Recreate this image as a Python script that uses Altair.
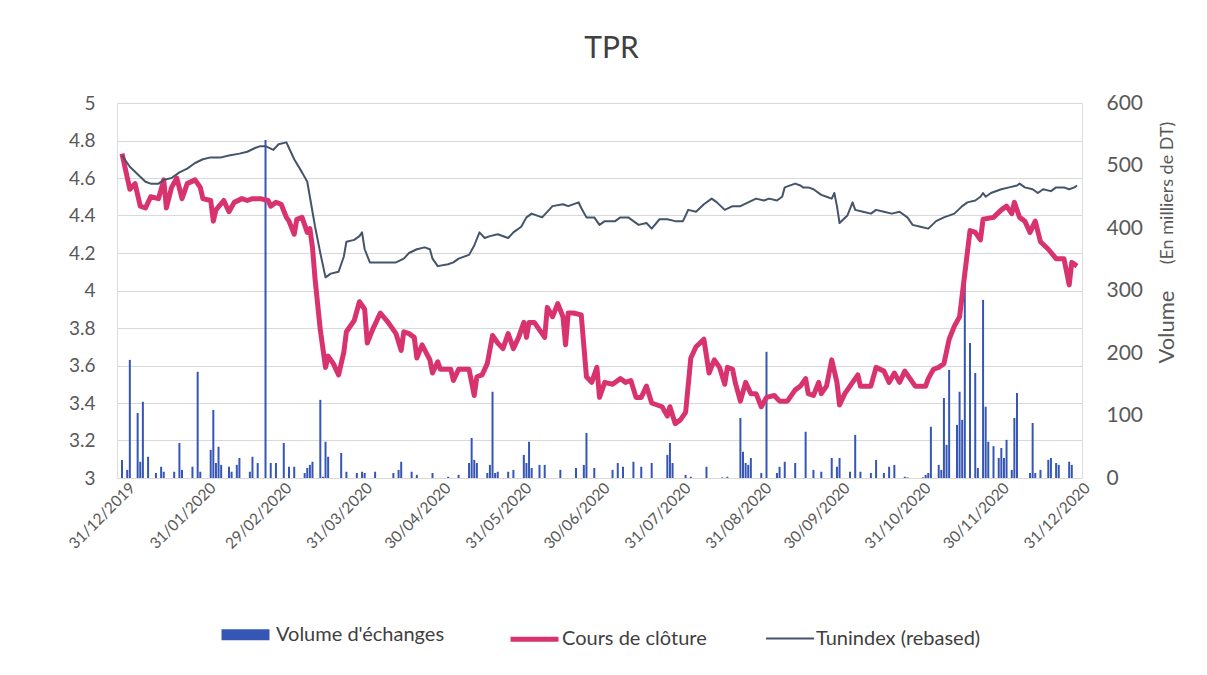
import altair as alt
import pandas as pd

# ---- data (days after 31/12/2019) ----
PRICE_DAYS = [0, 3, 5, 7, 9, 11, 14, 16, 17, 19, 21, 23, 25, 28, 30, 31, 34, 35, 36, 39,
              41, 43, 46, 48, 50, 53, 56, 57, 59, 61, 63, 64, 66, 67, 69, 71, 72, 73, 74, 76,
              78, 79, 81, 83, 85, 86, 89, 91, 93, 94, 96, 99, 102, 105, 107, 108, 110, 112, 113, 115,
              118, 119, 121, 122, 126, 127, 129, 133, 135, 136, 138, 140, 142, 144, 146, 148, 150, 152, 154, 155,
              156, 158, 160, 162, 163, 165, 167, 169, 170, 171, 173, 176, 178, 180, 182, 183, 185, 188, 191, 193,
              195, 197, 199, 201, 203, 207, 209, 210, 212, 214, 216, 218, 220, 223, 225, 227, 229, 231, 232, 234,
              235, 237, 239, 241, 243, 245, 247, 250, 252, 255, 258, 260, 262, 263, 265, 267, 268, 270, 272, 274,
              275, 277, 279, 282, 283, 287, 289, 292, 294, 296, 298, 300, 302, 304, 308, 309, 311, 313, 315, 317,
              319, 321, 323, 325, 327, 329, 330, 334, 337, 339, 341, 342, 344, 346, 348, 350, 352, 355, 358, 361,
              363, 364, 366]
PRICE = [4.73, 4.54, 4.57, 4.45, 4.44, 4.50, 4.49, 4.59, 4.44, 4.55, 4.60, 4.49, 4.57, 4.59, 4.55, 4.49, 4.48, 4.37, 4.43, 4.48,
         4.42, 4.47, 4.49, 4.48, 4.49, 4.49, 4.48, 4.45, 4.47, 4.46, 4.39, 4.37, 4.30, 4.38, 4.39, 4.31, 4.33, 4.23, 4.06, 3.79,
         3.59, 3.65, 3.61, 3.55, 3.67, 3.78, 3.84, 3.94, 3.90, 3.72, 3.79, 3.88, 3.83, 3.77, 3.68, 3.78, 3.77, 3.75, 3.64, 3.71,
         3.63, 3.56, 3.62, 3.58, 3.58, 3.52, 3.58, 3.58, 3.44, 3.54, 3.55, 3.61, 3.76, 3.72, 3.69, 3.77, 3.69, 3.75, 3.83, 3.75,
         3.83, 3.83, 3.79, 3.75, 3.91, 3.86, 3.93, 3.86, 3.71, 3.88, 3.88, 3.87, 3.54, 3.51, 3.59, 3.43, 3.51, 3.50, 3.53, 3.51,
         3.52, 3.43, 3.43, 3.49, 3.40, 3.38, 3.33, 3.38, 3.29, 3.31, 3.35, 3.64, 3.70, 3.74, 3.56, 3.63, 3.59, 3.50, 3.59, 3.58,
         3.51, 3.41, 3.51, 3.45, 3.45, 3.38, 3.43, 3.44, 3.41, 3.41, 3.47, 3.49, 3.53, 3.45, 3.44, 3.51, 3.45, 3.49, 3.63, 3.51,
         3.39, 3.45, 3.49, 3.55, 3.49, 3.49, 3.59, 3.57, 3.51, 3.56, 3.51, 3.57, 3.53, 3.49, 3.49, 3.53, 3.58, 3.59, 3.61, 3.74,
         3.81, 3.86, 4.09, 4.32, 4.31, 4.27, 4.38, 4.39, 4.43, 4.45, 4.41, 4.47, 4.39, 4.37, 4.31, 4.37, 4.26, 4.22, 4.17, 4.17,
         4.03, 4.15, 4.13]

TUN_DAYS = [0, 3, 6, 9, 11, 14, 16, 19, 22, 25, 28, 31, 34, 38, 41, 45, 48, 51, 53, 55,
            58, 60, 63, 64, 66, 69, 71, 72, 74, 76, 78, 80, 83, 85, 86, 89, 91, 92, 93, 95,
            98, 102, 105, 108, 110, 113, 116, 118, 119, 121, 125, 127, 129, 133, 135, 137, 139, 141, 144, 148,
            150, 153, 155, 157, 161, 165, 169, 171, 175, 176, 178, 181, 183, 185, 189, 191, 194, 198, 201, 203,
            206, 209, 212, 215, 217, 220, 223, 226, 228, 231, 234, 237, 240, 243, 246, 248, 251, 253, 254, 258,
            260, 261, 263, 265, 268, 270, 272, 273, 274, 275, 278, 280, 281, 284, 287, 289, 292, 295, 298, 301,
            303, 306, 309, 312, 315, 319, 322, 324, 327, 329, 330, 331, 333, 337, 340, 343, 344, 346, 349, 351,
            353, 356, 358, 361, 363, 365, 366]
TUNINDEX = [4.72, 4.66, 4.62, 4.58, 4.57, 4.57, 4.59, 4.60, 4.63, 4.65, 4.68, 4.70, 4.71, 4.71, 4.72, 4.73, 4.74, 4.76, 4.77, 4.77,
            4.75, 4.78, 4.79, 4.76, 4.70, 4.63, 4.58, 4.50, 4.34, 4.20, 4.07, 4.09, 4.10, 4.18, 4.26, 4.27, 4.29, 4.31, 4.22, 4.15,
            4.15, 4.15, 4.15, 4.17, 4.20, 4.22, 4.23, 4.22, 4.17, 4.13, 4.14, 4.15, 4.17, 4.19, 4.24, 4.31, 4.28, 4.29, 4.30, 4.28,
            4.31, 4.34, 4.39, 4.41, 4.39, 4.45, 4.46, 4.45, 4.47, 4.44, 4.39, 4.39, 4.35, 4.37, 4.37, 4.39, 4.39, 4.35, 4.36, 4.33,
            4.38, 4.38, 4.37, 4.37, 4.43, 4.42, 4.46, 4.49, 4.47, 4.43, 4.45, 4.45, 4.47, 4.49, 4.48, 4.49, 4.48, 4.50, 4.55, 4.57,
            4.56, 4.55, 4.55, 4.54, 4.51, 4.50, 4.49, 4.52, 4.45, 4.36, 4.40, 4.47, 4.43, 4.42, 4.41, 4.43, 4.42, 4.41, 4.42, 4.39,
            4.35, 4.34, 4.33, 4.37, 4.39, 4.41, 4.45, 4.47, 4.48, 4.50, 4.52, 4.50, 4.52, 4.54, 4.55, 4.56, 4.57, 4.55, 4.54, 4.52,
            4.54, 4.53, 4.55, 4.55, 4.54, 4.55, 4.56]

VOL_DAYS = [0, 2, 3, 6, 7, 8, 10, 13, 15, 16, 20, 22, 23, 27, 29, 30, 34, 35, 36, 37,
            38, 41, 42, 44, 45, 49, 50, 52, 55, 57, 59, 62, 64, 66, 70, 71, 72, 73, 76, 77,
            78, 79, 84, 86, 90, 92, 93, 97, 104, 106, 107, 111, 113, 119, 125, 129, 133, 134, 135, 136,
            140, 141, 142, 143, 144, 148, 150, 154, 155, 156, 157, 160, 162, 168, 174, 177, 178, 181, 188, 190,
            192, 196, 199, 203, 209, 210, 211, 216, 218, 224, 230, 232, 237, 238, 239, 240, 241, 245, 247, 251,
            252, 254, 258, 262, 265, 268, 272, 274, 275, 279, 281, 283, 287, 289, 292, 294, 296, 300, 301, 307,
            308, 309, 310, 313, 314, 315, 316, 317, 320, 321, 322, 323, 325, 327, 328, 330, 331, 332, 334, 336,
            337, 338, 339, 341, 342, 343, 348, 349, 350, 352, 355, 356, 358, 359, 363, 364]
VOLUME = [29, 13, 189, 104, 26, 122, 34, 8, 18, 10, 10, 56, 13, 18, 170, 10, 45, 109, 24, 50,
          21, 18, 10, 21, 32, 10, 34, 24, 541, 24, 24, 56, 18, 18, 8, 16, 21, 26, 125, 2,
          58, 34, 40, 10, 8, 10, 8, 10, 8, 13, 26, 10, 5, 8, 2, 5, 24, 64, 29, 24,
          8, 21, 138, 8, 10, 10, 13, 37, 24, 58, 16, 21, 21, 13, 16, 21, 72, 16, 13, 24,
          18, 26, 18, 24, 37, 56, 24, 5, 2, 18, 1, 2, 96, 42, 24, 21, 32, 8, 202, 8,
          18, 26, 24, 74, 13, 10, 32, 18, 32, 10, 69, 10, 8, 29, 8, 18, 21, 2, 1, 1,
          5, 8, 82, 21, 13, 128, 53, 173, 85, 138, 93, 322, 216, 168, 16, 285, 114, 58, 51, 32,
          48, 32, 61, 13, 96, 136, 8, 88, 8, 13, 29, 32, 24, 21, 26, 21]

TICK_DATES = ["2019-12-31", "2020-01-31", "2020-02-29", "2020-03-31", "2020-04-30", "2020-05-31",
              "2020-06-30", "2020-07-31", "2020-08-31", "2020-09-30", "2020-10-31", "2020-11-30",
              "2020-12-31"]
LEFT_TICKS = [3, 3.2, 3.4, 3.6, 3.8, 4, 4.2, 4.4, 4.6, 4.8, 5]
RIGHT_TICKS = [0, 100, 200, 300, 400, 500, 600]

SERIES = ["Volume d'échanges", "Cours de clôture", "Tunindex (rebased)"]
COLORS = ["#3556B5", "#D9336F", "#44546A"]
WIDTHS = [11, 5, 2]

BASE = pd.Timestamp("2019-12-31")


def frame(days, values, name):
    return pd.DataFrame({
        "date": BASE + pd.to_timedelta(days, unit="D"),
        "value": values,
        "series": name,
    })


df_vol = frame(VOL_DAYS, VOLUME, SERIES[0])
df_price = frame(PRICE_DAYS, PRICE, SERIES[1])
df_tun = frame(TUN_DAYS, TUNINDEX, SERIES[2])

FONT = "Lato"
W, H = 965, 375

tick_values = [alt.DateTime(year=int(s[:4]), month=int(s[5:7]), date=int(s[8:10])) for s in TICK_DATES]

x_enc = alt.X(
    "date:T",
    scale=alt.Scale(domain=[alt.DateTime(year=2019, month=12, date=31),
                            alt.DateTime(year=2020, month=12, date=31)], nice=False),
    axis=alt.Axis(values=tick_values, format="%d/%m/%Y", labelAngle=-45, labelAlign="right",
                  labelBaseline="middle", labelOffset=10, labelPadding=7, ticks=False, domain=False,
                  grid=False, labelFontSize=15.5, labelColor="#595959", labelFont=FONT, title=None,
                  labelOverlap=False),
)

legend_kw = dict(title=None, orient="none", legendX=99, legendY=502, direction="horizontal",
                 symbolType="stroke", symbolSize=2300, labelFontSize=20, labelFont=FONT,
                 labelColor="#404040", columnPadding=55, labelOffset=1, symbolOpacity=1,
                 labelLimit=400)

color_enc = alt.Color("series:N", scale=alt.Scale(domain=SERIES, range=COLORS),
                      legend=alt.Legend(**legend_kw))
width_enc = alt.StrokeWidth("series:N", scale=alt.Scale(type="ordinal", domain=SERIES, range=WIDTHS),
                            legend=alt.Legend(**legend_kw))

left_axis = alt.Axis(values=LEFT_TICKS, format="~g", ticks=False, domain=False, grid=True,
                     gridColor="#d9d9d9", labelFontSize=19, labelColor="#595959", labelFont=FONT,
                     labelPadding=22, title=None)
y_left = alt.Y("value:Q", scale=alt.Scale(domain=[3, 5], nice=False, zero=False), axis=left_axis)

bars = alt.Chart(df_vol).mark_bar(size=2).encode(
    x=x_enc,
    y=alt.Y("value:Q", scale=alt.Scale(domain=[0, 600], nice=False),
            axis=alt.Axis(orient="right", values=RIGHT_TICKS, ticks=False, domain=False, grid=False,
                          labelFontSize=21, labelColor="#595959", labelFont=FONT, labelPadding=24,
                          title=None)),
    color=color_enc,
    strokeWidth=width_enc,
)

price_line = alt.Chart(df_price).mark_line(strokeJoin="round").encode(
    x=x_enc, y=y_left, color=color_enc, strokeWidth=width_enc)
tun_line = alt.Chart(df_tun).mark_line(strokeJoin="round").encode(
    x=x_enc, y=y_left, color=color_enc, strokeWidth=width_enc)

lines = alt.layer(price_line, tun_line)

title_df = pd.DataFrame({"t": ["Volume"]})
sub_df = pd.DataFrame({"t": ["(En milliers de DT)"]})
vol_title = alt.Chart(title_df).mark_text(angle=270, font=FONT, fontSize=22, color="#595959",
                                          align="center", baseline="middle").encode(
    text="t:N", x=alt.value(W + 85), y=alt.value(224))
vol_sub = alt.Chart(sub_df).mark_text(angle=270, font=FONT, fontSize=18, color="#595959",
                                      align="center", baseline="middle").encode(
    text="t:N", x=alt.value(W + 86), y=alt.value(90))

chart = alt.layer(bars, lines, vol_title, vol_sub).resolve_scale(y="independent").properties(
    width=W, height=H,
    title=alt.Title("TPR", fontSize=30, font=FONT, fontWeight="normal", color="#404040",
                    anchor="middle", offset=28, dx=12),
    autosize=alt.AutoSizeParams(type="none"),
    padding={"left": 109, "top": 95, "right": 117, "bottom": 180},
).configure_view(stroke=None).configure(background="white")

chart.save("out.html", embed_options={"renderer": "svg", "actions": False})
